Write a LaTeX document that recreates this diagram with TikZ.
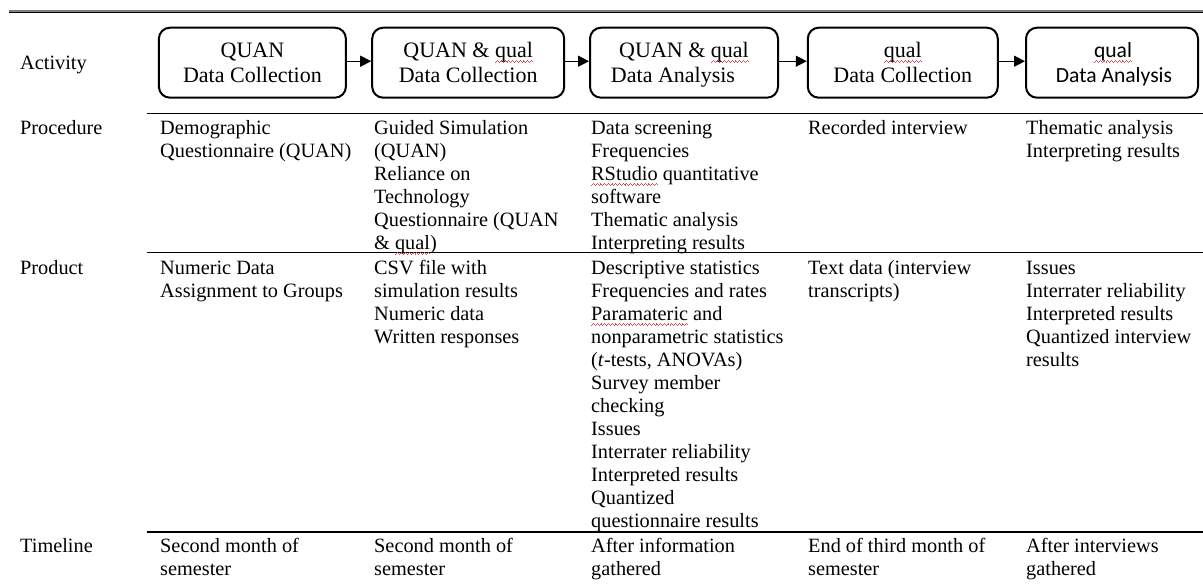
\documentclass[tikz,border=0pt]{standalone}
\usepackage{fontspec}
\setmainfont{Liberation Serif}
\newfontfamily\calibrifont{Carlito}
\usetikzlibrary{arrows.meta}

\definecolor{wavered}{RGB}{222,70,90}
\definecolor{rulegray}{RGB}{128,128,128}

% red wavy underline, as a spell checker marks a word
\newsavebox\wavebox
\newcommand\wavepiece{\hbox{\rule{0.9pt}{1pt}\raisebox{0.8pt}{\rule{0.9pt}{1pt}}\raisebox{1.6pt}{\rule{0.9pt}{1pt}}\raisebox{0.8pt}{\rule{0.9pt}{1pt}}}}
\newcommand\redwave[1]{\sbox\wavebox{#1}\rlap{\color{wavered}\raisebox{-5.5pt}{\hbox to \wd\wavebox{\xleaders\wavepiece\hfil}}}\usebox\wavebox}
% fixes the height of the first line of a cell
\newcommand\firstline{\rule{0pt}{16pt}}

\tikzset{
  stagebox/.style={draw, line width=2pt, rounded corners=11pt,
    minimum height=70pt, inner sep=0pt},
  boxtext/.style={anchor=base, inner sep=0pt, font=\fontsize{22}{26}\selectfont},
  boxsans/.style={boxtext, font=\calibrifont\fontsize{21.6}{26}\selectfont},
  cell/.style={anchor=north west, inner sep=0pt, align=left,
    font=\fontsize{20.3}{23}\selectfont},
  flow/.style={line width=1.3pt, -{Triangle[length=11pt,width=11pt]}},
  rowrule/.style={line width=1.2pt},
}

\begin{document}
\begin{tikzpicture}[x=1pt,y=-1pt]
\path[use as bounding box, fill=white] (0,0) rectangle (1203,586);

% double rule at the top
\coordinate (tl1) at (9,10.7);   \coordinate (tr1) at (1203,10.7);
\coordinate (tl2) at (9,12.6);   \coordinate (tr2) at (1203,12.6);
\draw[rulegray, line width=2pt] (tl1) -- (tr1);
\draw[black, line width=1.2pt] (tl2) -- (tr2);

% stage boxes
\node[stagebox, minimum width=187pt] (b1) at (252.4,62.7) {};
\node[stagebox, minimum width=192pt] (b2) at (468.2,62.7) {};
\node[stagebox, minimum width=188pt] (b3) at (684,62.7) {};
\node[stagebox, minimum width=190pt] (b4) at (902.8,62.7) {};
\node[stagebox, minimum width=172pt] (b5) at (1112,62.7) {};

\node[boxtext] (b1a) at ([yshift=5.4pt]b1.center) {QUAN};
\node[boxtext] (b1b) at ([yshift=-20.3pt]b1.center) {Data Collection};
\node[boxtext] (b2a) at ([yshift=5.4pt]b2.center) {QUAN \& \redwave{qual}};
\node[boxtext] (b2b) at ([yshift=-20.3pt]b2.center) {Data Collection};
\node[boxtext] (b3a) at ([yshift=5.4pt]b3.center) {QUAN \& \redwave{qual}};
\node[boxtext] (b3b) at ([xshift=-11pt,yshift=-20.3pt]b3.center) {Data Analysis};
\node[boxtext] (b4a) at ([yshift=5.4pt]b4.center) {\redwave{qual}};
\node[boxtext] (b4b) at ([yshift=-20.3pt]b4.center) {Data Collection};
\node[boxsans] (b5a) at ([xshift=1pt,yshift=5.4pt]b5.center) {\redwave{qual}};
\node[boxsans] (b5b) at ([xshift=2pt,yshift=-20.3pt]b5.center) {Data Analysis};

% flow arrows
\draw[flow] ([yshift=1.5pt]b1.east) -- ([yshift=1.5pt]b2.west);
\draw[flow] ([yshift=1.5pt]b2.east) -- ([yshift=1.5pt]b3.west);
\draw[flow] ([yshift=1.5pt]b3.east) -- ([yshift=1.5pt]b4.west);
\draw[flow] ([yshift=1.5pt]b4.east) -- ([yshift=1.5pt]b5.west);

% row rules
\coordinate (r1l) at (147,113.3); \coordinate (r1r) at (1203,113.3);
\coordinate (r2l) at (147,252.3); \coordinate (r2r) at (1203,252.3);
\coordinate (r3l) at (147,532);   \coordinate (r3r) at (1203,532);
\draw[rowrule] (r1l) -- (r1r);
\draw[rowrule] (r2l) -- (r2r);
\draw[rowrule] (r3l) -- (r3r);

% row labels
\node[cell] (lab1) at (20,53) {\firstline Activity};
\node[cell] (lab2) at (20,118) {\firstline Procedure};
\node[cell] (lab3) at (20,258) {\firstline Product};
\node[cell] (lab4) at (20,536) {\firstline Timeline};

% procedure row
\node[cell] (p1) at (160,118) {\firstline Demographic\\Questionnaire (QUAN)};
\node[cell] (p2) at (374,118) {\firstline Guided Simulation\\(QUAN)\\Reliance on\\Technology\\Questionnaire (QUAN\\\& \redwave{qual})};
\node[cell] (p3) at (591,118) {\firstline Data screening\\Frequencies\\\redwave{RStudio} quantitative\\software\\Thematic analysis\\Interpreting results};
\node[cell] (p4) at (808,118) {\firstline Recorded interview};
\node[cell] (p5) at (1026,118) {\firstline Thematic analysis\\Interpreting results};

% product row
\node[cell] (q1) at (160,258) {\firstline Numeric Data\\Assignment to Groups};
\node[cell] (q2) at (374,258) {\firstline CSV file with\\simulation results\\Numeric data\\Written responses};
\node[cell] (q3) at (591,258) {\firstline Descriptive statistics\\Frequencies and rates\\\redwave{Paramateric} and\\nonparametric statistics\\(\textit{t}-tests, ANOVAs)\\Survey member\\checking\\Issues\\Interrater reliability\\Interpreted results\\Quantized\\questionnaire results};
\node[cell] (q4) at (808,258) {\firstline Text data (interview\\transcripts)};
\node[cell] (q5) at (1026,258) {\firstline Issues\\Interrater reliability\\Interpreted results\\Quantized interview\\results};

% timeline row
\node[cell] (t1) at (160,536) {\firstline Second month of\\semester};
\node[cell] (t2) at (374,536) {\firstline Second month of\\semester};
\node[cell] (t3) at (591,536) {\firstline After information\\gathered};
\node[cell] (t4) at (808,536) {\firstline End of third month of\\semester};
\node[cell] (t5) at (1026,536) {\firstline After interviews\\gathered};
\end{tikzpicture}
\end{document}
